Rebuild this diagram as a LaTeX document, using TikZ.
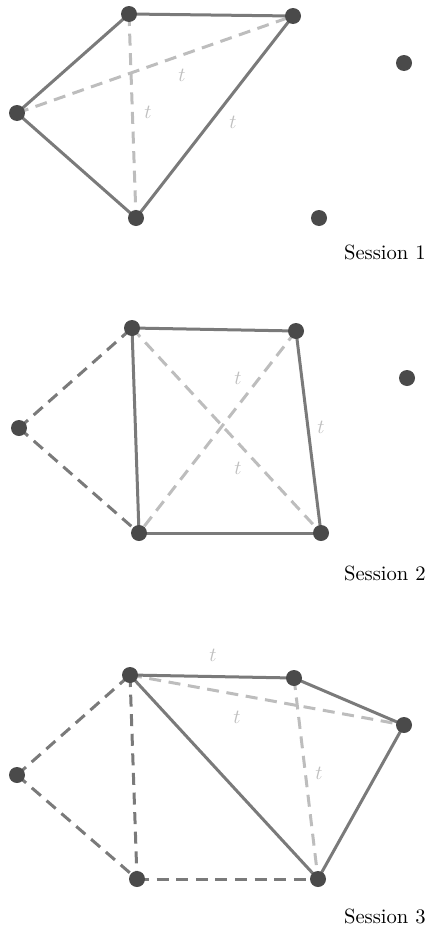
\documentclass[tikz,border=0pt]{standalone}
\begin{document}
\begin{tikzpicture}[x=0.5pt,y=-0.5pt,
  pt/.style={circle,fill=ptc,inner sep=0pt,minimum size=8pt},
  solid edge/.style={draw=edgec,line width=1.5pt},
  dark dash/.style={draw=edgec,line width=1.5pt,dash pattern=on 6pt off 3.8pt},
  light dash/.style={draw=lightc,line width=1.5pt,dash pattern=on 6pt off 3.8pt},
  tlab/.style={text=labc,font=\fontsize{10}{12}\selectfont},
  sess/.style={anchor=base east,inner sep=0pt,font=\fontsize{10.3}{12}\selectfont}]
\definecolor{ptc}{HTML}{4A4A4A}
\definecolor{edgec}{HTML}{7A7A7A}
\definecolor{lightc}{HTML}{BDBDBD}
\definecolor{labc}{HTML}{BFBFBF}
\useasboundingbox (0,0) rectangle (430,926);
% Session 1
\coordinate (a1) at (129,14);
\coordinate (b1) at (293,16);
\coordinate (c1) at (17,113);
\coordinate (d1) at (136,218);
\coordinate (e1) at (404,63);
\coordinate (f1) at (319,218);
\draw[light dash] (a1) -- (d1);
\draw[light dash] (c1) -- (b1);
\draw[solid edge] (a1) -- (b1);
\draw[solid edge] (a1) -- (c1);
\draw[solid edge] (c1) -- (d1);
\draw[solid edge] (d1) -- (b1);
\foreach \n in {a1,b1,c1,d1,e1,f1} \node[pt] (n\n) at (\n) {};
\node[tlab] (t11) at (182,75) {$t$};
\node[tlab] (t12) at (148,112) {$t$};
\node[tlab] (t13) at (233,122) {$t$};
\node[sess] (s1) at (426,259) {Session 1};
% Session 2
\coordinate (a2) at (132,328);
\coordinate (b2) at (296,331);
\coordinate (c2) at (19,428);
\coordinate (d2) at (139,533);
\coordinate (e2) at (321,533);
\coordinate (f2) at (407,378);
\draw[light dash] (a2) -- (e2);
\draw[light dash] (b2) -- (d2);
\draw[dark dash] (c2) -- (a2);
\draw[dark dash] (c2) -- (d2);
\draw[solid edge] (a2) -- (b2);
\draw[solid edge] (a2) -- (d2);
\draw[solid edge] (b2) -- (e2);
\draw[solid edge] (d2) -- (e2);
\foreach \n in {a2,b2,c2,d2,e2,f2} \node[pt] (n\n) at (\n) {};
\node[tlab] (t21) at (238,378) {$t$};
\node[tlab] (t22) at (321,427) {$t$};
\node[tlab] (t23) at (238,468) {$t$};
\node[sess] (s2) at (426,580) {Session 2};
% Session 3
\coordinate (a3) at (130,675);
\coordinate (b3) at (294,678);
\coordinate (c3) at (404,725);
\coordinate (d3) at (17,775);
\coordinate (e3) at (137,879);
\coordinate (f3) at (318,879);
\draw[light dash] (a3) -- (c3);
\draw[light dash] (b3) -- (f3);
\draw[dark dash] (d3) -- (a3);
\draw[dark dash] (d3) -- (e3);
\draw[dark dash] (a3) -- (e3);
\draw[dark dash] (e3) -- (f3);
\draw[solid edge] (a3) -- (b3);
\draw[solid edge] (b3) -- (c3);
\draw[solid edge] (a3) -- (f3);
\draw[solid edge] (c3) -- (f3);
\foreach \n in {a3,b3,c3,d3,e3,f3} \node[pt] (n\n) at (\n) {};
\node[tlab] (t31) at (213,655) {$t$};
\node[tlab] (t32) at (237,717) {$t$};
\node[tlab] (t33) at (319,773) {$t$};
\node[sess] (s3) at (426,923) {Session 3};
\end{tikzpicture}
\end{document}
